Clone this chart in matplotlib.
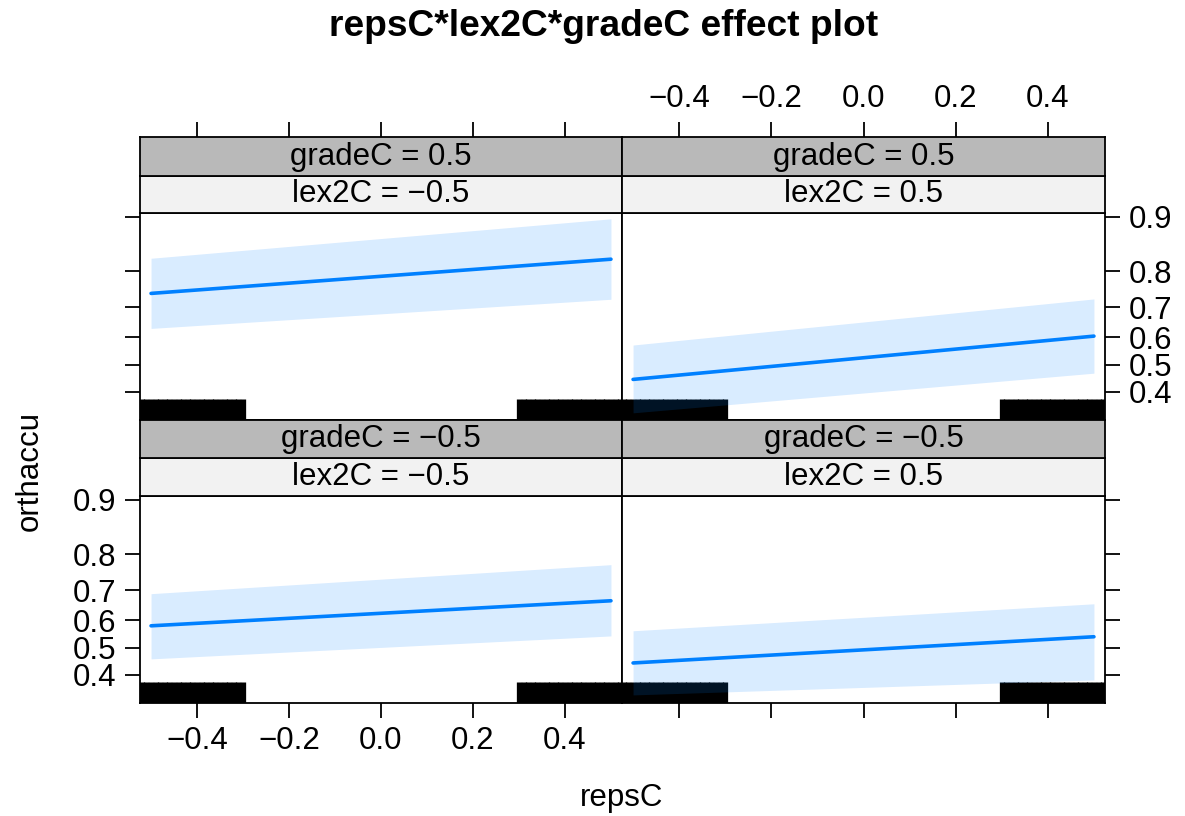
import matplotlib
matplotlib.use("Agg")
import matplotlib.pyplot as plt
from matplotlib.ticker import NullLocator, NullFormatter
import matplotlib.transforms as mtransforms

plt.rcParams['font.family'] = ['Liberation Sans', 'DejaVu Sans']

# ---------------- data ----------------
title = "repsC*lex2C*gradeC effect plot"
x_label = "repsC"
y_label = "orthaccu"

reps_x = [-0.5, 0.5]
grade_labels = ["gradeC = 0.5", "gradeC = \u22120.5"]
lex_labels = ["lex2C = \u22120.5", "lex2C = 0.5"]

# fitted probabilities and confidence limits at reps_x, [row][col]
fit = [[[0.742, 0.827], [0.445, 0.604]],
       [[0.580, 0.667], [0.443, 0.540]]]
lower = [[[0.631, 0.725], [0.328, 0.468]],
         [[0.458, 0.543], [0.331, 0.382]]]
upper = [[[0.829, 0.897], [0.572, 0.726]],
         [[0.690, 0.774], [0.562, 0.657]]]

# observed repsC values (rug)
rug_values = [-0.62, -0.61, -0.60, -0.59, -0.58, -0.57, -0.56, -0.55, -0.54,
              -0.53, -0.52, -0.51, -0.50, -0.49, -0.48, -0.47, -0.46, -0.45,
              -0.44, -0.43, -0.42, -0.41, -0.40, -0.39, -0.38, -0.37, -0.36,
              -0.35, -0.34, -0.33, -0.32, -0.31, -0.30,
              0.30, 0.31, 0.32, 0.33, 0.34, 0.35, 0.36, 0.37, 0.38, 0.39,
              0.40, 0.41, 0.42, 0.43, 0.44, 0.45, 0.46, 0.47, 0.48, 0.49,
              0.50, 0.51, 0.52, 0.53, 0.54, 0.55, 0.56, 0.57, 0.58, 0.59,
              0.60, 0.61, 0.62]

x_ticks = [-0.4, -0.2, 0.0, 0.2, 0.4]
x_tick_labels = ["\u22120.4", "\u22120.2", "0.0", "0.2", "0.4"]
y_ticks = [0.4, 0.5, 0.6, 0.7, 0.8, 0.9]
y_tick_labels = ["0.4", "0.5", "0.6", "0.7", "0.8", "0.9"]

# ---------------- layout ----------------
W, H = 1185, 816
fig = plt.figure(figsize=(W / 100, H / 100), dpi=100)

def add_px(x0, y0, x1, y1):
    return fig.add_axes([x0 / W, 1 - y1 / H, (x1 - x0) / W, (y1 - y0) / H])

cols = [(140, 622), (622, 1105)]
rows = [dict(ax=(213, 420), s2=(176, 213), s1=(137, 176)),
        dict(ax=(496, 703), s2=(458, 496), s1=(420, 458))]

XLIM = (-0.524, 0.524)
YLIM = (0.305, 0.9047)
FS = 22.5
LW = 1.3
TICKLEN = 10.8
LINE_COL = '#0080FF'

def style_spines(ax):
    for s in ax.spines.values():
        s.set_linewidth(LW)
        s.set_color('black')

for r, row in enumerate(rows):
    for c, (x0, x1) in enumerate(cols):
        y0, y1 = row['ax']
        ax = add_px(x0, y0, x1, y1)
        ax.set_xlim(*XLIM)
        ax.set_yscale('logit')
        ax.set_ylim(*YLIM)
        style_spines(ax)

        # rug
        trans = mtransforms.blended_transform_factory(ax.transData, ax.transAxes)
        ax.vlines(rug_values, 0, 0.1, transform=trans, color='black',
                  lw=3.8, zorder=2, clip_on=True)
        # band + fit
        ax.fill_between(reps_x, lower[r][c], upper[r][c], color=LINE_COL,
                        alpha=0.15, lw=0, zorder=3)
        ax.plot(reps_x, fit[r][c], color=LINE_COL, lw=2.6, zorder=4,
                solid_capstyle='round')

        ax.yaxis.set_minor_locator(NullLocator())
        ax.yaxis.set_minor_formatter(NullFormatter())
        ax.xaxis.set_minor_locator(NullLocator())
        ax.set_yticks(y_ticks)
        ax.set_yticklabels(y_tick_labels)
        ax.set_xticks(x_ticks)
        ax.set_xticklabels(x_tick_labels)
        ax.tick_params(direction='out', length=TICKLEN, width=LW,
                       labelsize=FS, pad=6)

        # y ticks: left column left side, right column right side
        if c == 0:
            ax.tick_params(axis='y', left=True, right=False,
                           labelleft=(r == 1), labelright=False)
        else:
            ax.tick_params(axis='y', left=False, right=True,
                           labelleft=False, labelright=(r == 0))
        # x ticks: bottom row bottom side
        if r == 1:
            ax.tick_params(axis='x', bottom=True, top=False,
                           labelbottom=(c == 0), labeltop=False)
        else:
            ax.tick_params(axis='x', bottom=False, top=False,
                           labelbottom=False, labeltop=False)

        # strips
        for key, txt, col in (('s2', lex_labels[c], '#F2F2F2'),
                              ('s1', grade_labels[r], '#B9B9B9')):
            sy0, sy1 = row[key]
            sa = add_px(x0, sy0, x1, sy1)
            sa.set_facecolor(col)
            sa.set_xlim(*XLIM)
            style_spines(sa)
            sa.set_yticks([])
            sa.text(0.5, 0.5, txt, transform=sa.transAxes, ha='center',
                    va='center', fontsize=FS)
            if r == 0 and key == 's1':
                sa.set_xticks(x_ticks)
                sa.set_xticklabels(x_tick_labels)
                sa.xaxis.set_minor_locator(NullLocator())
                sa.tick_params(axis='x', direction='out', length=TICKLEN,
                               width=LW, labelsize=FS, pad=6,
                               top=True, bottom=False,
                               labeltop=(c == 1), labelbottom=False)
            else:
                sa.set_xticks([])

fig.text(604 / W, 1 - 27 / H, title, ha='center', va='center',
         fontsize=26.7, fontweight='bold')
fig.text(622 / W, 1 - 798 / H, x_label, ha='center', va='center', fontsize=FS)
fig.text(30 / W, 1 - 471 / H, y_label, ha='center', va='center',
         fontsize=FS, rotation=90)

fig.savefig('out.png', dpi=100)
